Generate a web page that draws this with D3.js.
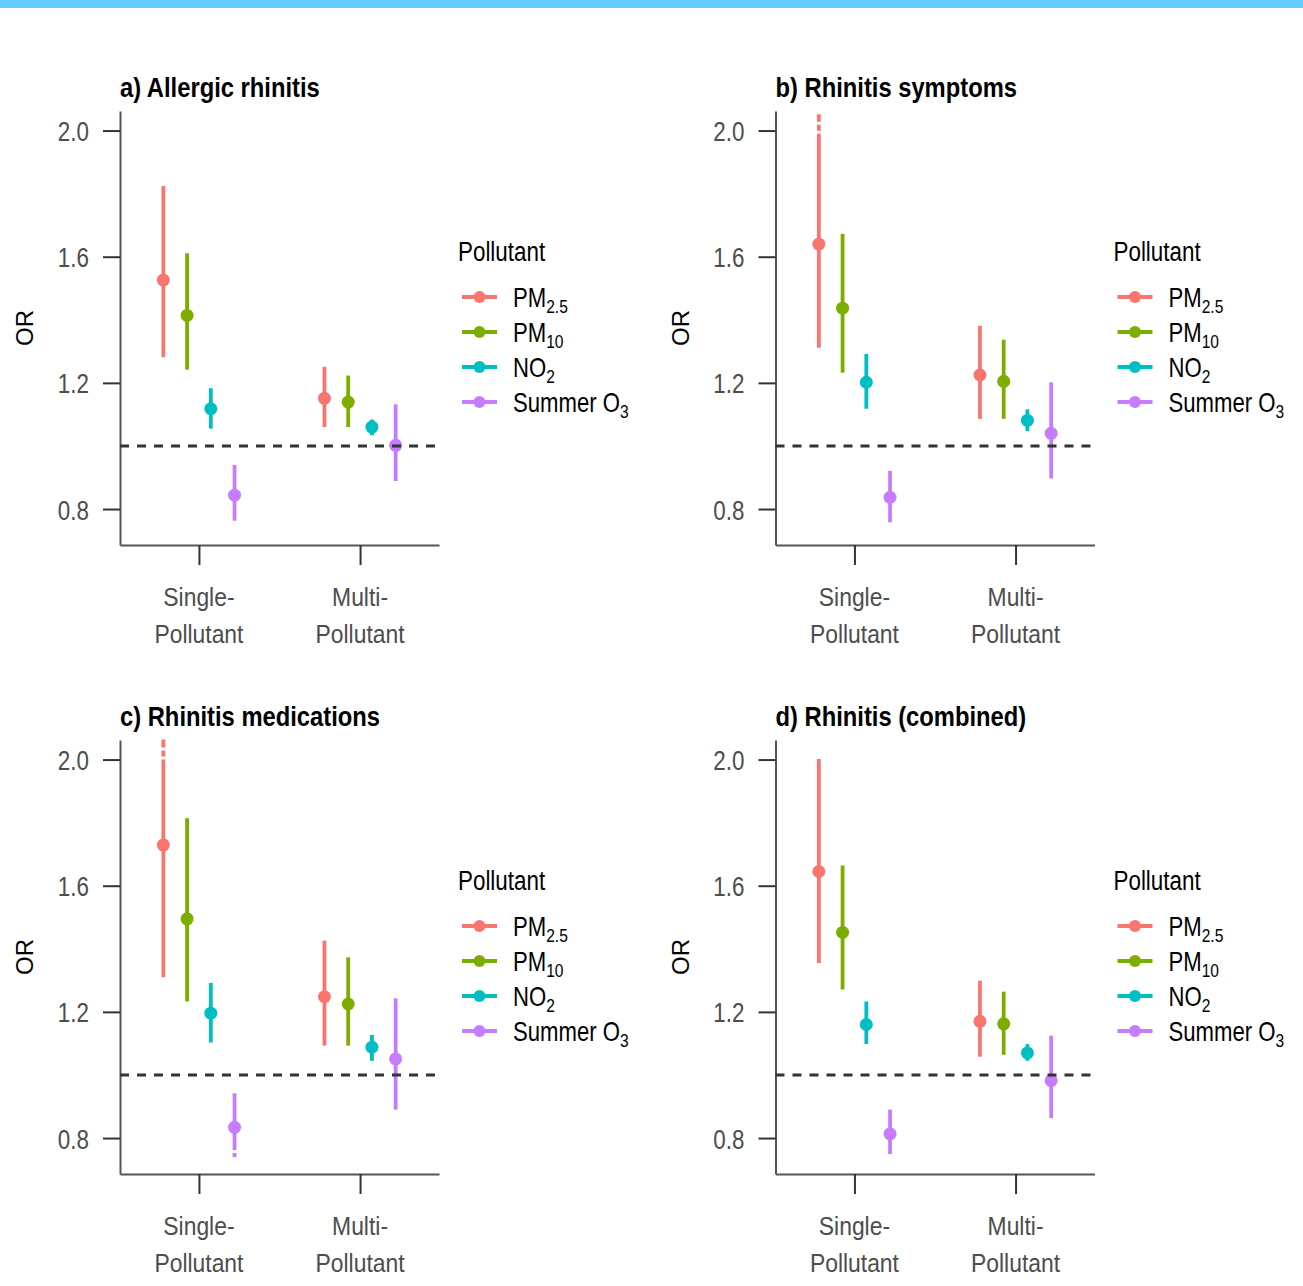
<!DOCTYPE html>
<html>
<head>
<meta charset="utf-8">
<script src="https://cdn.jsdelivr.net/npm/d3@7"></script>
<style>
  body { margin: 0; background: #fff; }
  text { font-family: "Liberation Sans", Arial, sans-serif; }
</style>
</head>
<body>
<script>
// ---- data ----
const groups = ["Single-Pollutant", "Multi-Pollutant"];
const groupLabels = [["Single-", "Pollutant"], ["Multi-", "Pollutant"]];
const pollutants = ["PM2.5", "PM10", "NO2", "Summer O3"];
const legendLabels = [["PM", "2.5"], ["PM", "10"], ["NO", "2"], ["Summer O", "3"]];
const colors = ["#F8766D", "#7CAE00", "#00BFC4", "#C77CFF"];
const yTicks = [0.8, 1.2, 1.6, 2.0];
const panelTitles = ["a) Allergic rhinitis", "b) Rhinitis symptoms", "c) Rhinitis medications", "d) Rhinitis (combined)"];

// [group, pollutant, OR, lower, upper]
const allergicRhinitis = [
  ["Single-Pollutant", "PM2.5", 1.526, 1.281, 1.824],
  ["Single-Pollutant", "PM10", 1.414, 1.242, 1.611],
  ["Single-Pollutant", "NO2", 1.118, 1.055, 1.183],
  ["Single-Pollutant", "Summer O3", 0.844, 0.763, 0.940],
  ["Multi-Pollutant", "PM2.5", 1.151, 1.060, 1.251],
  ["Multi-Pollutant", "PM10", 1.139, 1.060, 1.223],
  ["Multi-Pollutant", "NO2", 1.060, 1.034, 1.084],
  ["Multi-Pollutant", "Summer O3", 1.002, 0.889, 1.132]
];
const rhinitisSymptoms = [
  ["Single-Pollutant", "PM2.5", 1.640, 1.311, 1.990],
  ["Single-Pollutant", "PM10", 1.437, 1.232, 1.672],
  ["Single-Pollutant", "NO2", 1.202, 1.118, 1.292],
  ["Single-Pollutant", "Summer O3", 0.837, 0.758, 0.921],
  ["Multi-Pollutant", "PM2.5", 1.225, 1.086, 1.381],
  ["Multi-Pollutant", "PM10", 1.205, 1.086, 1.337],
  ["Multi-Pollutant", "NO2", 1.081, 1.047, 1.116],
  ["Multi-Pollutant", "Summer O3", 1.040, 0.897, 1.202]
];
const rhinitisMedications = [
  ["Single-Pollutant", "PM2.5", 1.729, 1.310, 2.000],
  ["Single-Pollutant", "PM10", 1.495, 1.233, 1.814],
  ["Single-Pollutant", "NO2", 1.196, 1.103, 1.292],
  ["Single-Pollutant", "Summer O3", 0.834, 0.762, 0.942],
  ["Multi-Pollutant", "PM2.5", 1.248, 1.093, 1.426],
  ["Multi-Pollutant", "PM10", 1.225, 1.093, 1.373],
  ["Multi-Pollutant", "NO2", 1.088, 1.045, 1.127],
  ["Multi-Pollutant", "Summer O3", 1.051, 0.890, 1.243]
];
const rhinitisCombined = [
  ["Single-Pollutant", "PM2.5", 1.645, 1.355, 2.002],
  ["Single-Pollutant", "PM10", 1.452, 1.271, 1.664],
  ["Single-Pollutant", "NO2", 1.160, 1.098, 1.233],
  ["Single-Pollutant", "Summer O3", 0.813, 0.749, 0.890],
  ["Multi-Pollutant", "PM2.5", 1.170, 1.058, 1.299],
  ["Multi-Pollutant", "PM10", 1.162, 1.064, 1.264],
  ["Multi-Pollutant", "NO2", 1.070, 1.045, 1.098],
  ["Multi-Pollutant", "Summer O3", 0.982, 0.863, 1.125]
];
// dotted continuation of clipped intervals: [panel, group, pollutant, from, to]
const clippedTails = [
  [1, "Single-Pollutant", "PM2.5", 1.990, 2.052],
  [2, "Single-Pollutant", "PM2.5", 2.000, 2.066],
  [2, "Single-Pollutant", "Summer O3", 0.762, 0.739]
];
const panelData = [allergicRhinitis, rhinitisSymptoms, rhinitisMedications, rhinitisCombined];

const svg = d3.select("body").append("svg")
  .attr("width", 1303)
  .attr("height", 1286);

// light blue strip at the very top
svg.append("rect")
  .attr("x", 0).attr("y", 0)
  .attr("width", 1303).attr("height", 8)
  .attr("fill", "#66CCFF");

// text helper: squeeze horizontally like the original
function addText(parent, x, y, str, o) {
  return parent.append("text")
    .attr("transform", `translate(${x},${y}) scale(${o.sx || 1},1)`)
    .attr("text-anchor", o.anchor || "start")
    .style("font-size", o.size + "px")
    .style("font-weight", o.weight || "normal")
    .style("fill", o.fill || "#000")
    .text(str);
}

const plotLeft = 120, plotRight = 439, plotTop = 111, plotBottom = 545;

const x = d3.scalePoint().domain(groups).range([plotLeft, plotRight]).padding(0.49);
const dodge = d3.scalePoint().domain(pollutants).range([-35.6, 35.6]);
const y = d3.scaleLinear().domain([0.686, 2.062]).range([plotBottom, plotTop]);
const color = d3.scaleOrdinal().domain(pollutants).range(colors);

panelData.forEach((rows, i) => {
  const ox = i % 2 ? 655.5 : 0;
  const oy = i >= 2 ? 629 : 0;
  const g = svg.append("g").attr("transform", `translate(${ox},${oy})`);

  // title
  addText(g, 120, 96.7, panelTitles[i], { size: 27, weight: "bold", sx: 0.88 });

  // y axis
  const yAxis = g.append("g")
    .attr("transform", `translate(${plotLeft},0)`)
    .call(d3.axisLeft(y).tickValues(yTicks).tickSize(17).tickSizeOuter(0).tickFormat(d3.format(".1f")));
  yAxis.select(".domain").attr("stroke", "#555").attr("stroke-width", 2);
  yAxis.selectAll(".tick line").attr("stroke", "#333").attr("stroke-width", 2);
  yAxis.selectAll(".tick text")
    .attr("x", 0)
    .attr("dy", null)
    .attr("transform", "translate(-31,10) scale(0.8,1)")
    .style("font-size", "28px")
    .style("font-family", "'Liberation Sans', Arial, sans-serif")
    .attr("fill", "#4D4D4D");

  // x axis
  const xAxis = g.append("g")
    .attr("transform", `translate(0,${plotBottom})`)
    .call(d3.axisBottom(x).tickSize(20).tickSizeOuter(0).tickFormat(""));
  xAxis.select(".domain").attr("stroke", "#555").attr("stroke-width", 2);
  xAxis.selectAll(".tick line").attr("stroke", "#333").attr("stroke-width", 2);
  groups.forEach((grp, j) => {
    groupLabels[j].forEach((line, k) => {
      addText(g, x(grp), plotBottom + 61 + k * 37, line, { size: 26, anchor: "middle", fill: "#4D4D4D", sx: 0.88 });
    });
  });

  // y axis title
  g.append("text")
    .attr("transform", `translate(33,${(plotTop + plotBottom) / 2}) rotate(-90)`)
    .attr("text-anchor", "middle")
    .style("font-size", "24px")
    .text("OR");

  // intervals
  g.selectAll("line.ci")
    .data(rows)
    .enter()
    .append("line")
    .attr("class", "ci")
    .attr("x1", d => x(d[0]) + dodge(d[1]))
    .attr("x2", d => x(d[0]) + dodge(d[1]))
    .attr("y1", d => y(d[3]))
    .attr("y2", d => y(d[4]))
    .attr("stroke", d => color(d[1]))
    .attr("stroke-width", 3.8);

  g.selectAll("line.tail")
    .data(clippedTails.filter(t => t[0] === i))
    .enter()
    .append("line")
    .attr("class", "tail")
    .attr("x1", d => x(d[1]) + dodge(d[2]))
    .attr("x2", d => x(d[1]) + dodge(d[2]))
    .attr("y1", d => y(d[3]))
    .attr("y2", d => y(d[4]))
    .attr("stroke", d => color(d[2]))
    .attr("stroke-width", 3.8)
    .attr("stroke-dasharray", "0,3,6,3,5");

  g.selectAll("circle.pt")
    .data(rows)
    .enter()
    .append("circle")
    .attr("class", "pt")
    .attr("cx", d => x(d[0]) + dodge(d[1]))
    .attr("cy", d => y(d[2]))
    .attr("r", 6.5)
    .attr("fill", d => color(d[1]));

  // reference line at OR = 1
  g.append("line")
    .attr("x1", plotLeft).attr("x2", plotRight)
    .attr("y1", y(1)).attr("y2", y(1))
    .attr("stroke", "#333")
    .attr("stroke-width", 3)
    .attr("stroke-dasharray", "9,8");

  // legend
  addText(g, 458, 261, "Pollutant", { size: 28, sx: 0.8 });
  pollutants.forEach((p, k) => {
    const ly = 297 + k * 35;
    g.append("line")
      .attr("x1", 462).attr("x2", 497)
      .attr("y1", ly).attr("y2", ly)
      .attr("stroke", color(p))
      .attr("stroke-width", 3.8);
    g.append("circle")
      .attr("cx", 479.5).attr("cy", ly)
      .attr("r", 6)
      .attr("fill", color(p));
    const t = addText(g, 513, ly + 10, legendLabels[k][0], { size: 27, sx: 0.82 });
    t.append("tspan")
      .attr("dy", 6)
      .style("font-size", "19px")
      .text(legendLabels[k][1]);
  });
});
</script>
</body>
</html>
